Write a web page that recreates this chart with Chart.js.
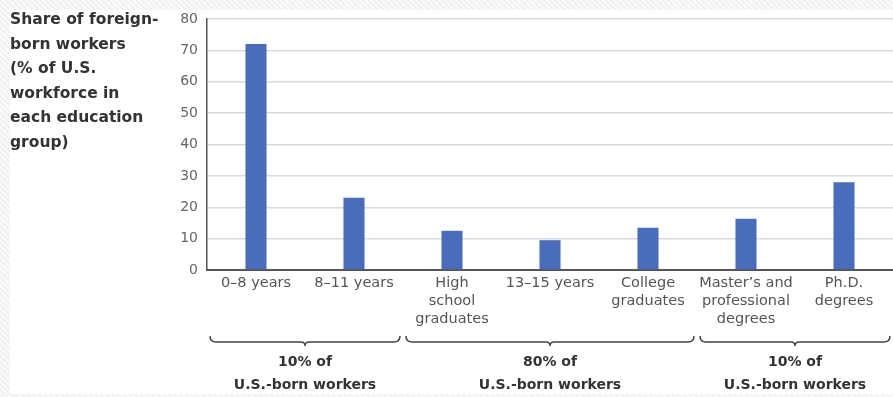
<!DOCTYPE html>
<html>
<head>
<meta charset="utf-8">
<script src="https://cdn.jsdelivr.net/npm/chart.js@4"></script>
<style>
  html, body { margin: 0; padding: 0; }
  body {
    width: 893px; height: 397px; overflow: hidden;
    background: repeating-linear-gradient(45deg, #f1f1f1 0 2px, #fafafa 2px 4px);
  }
  #panel { position: absolute; left: 10px; top: 10px; width: 883px; height: 384px; background: #fff; }
  #wrap { position: absolute; left: 0; top: 0; width: 893px; height: 397px; }
</style>
</head>
<body>
<div id="panel"></div>
<div id="wrap"><canvas id="chart"></canvas></div>
<script>
const categories = [
  ['0–8 years'],
  ['8–11 years'],
  ['High', 'school', 'graduates'],
  ['13–15 years'],
  ['College', 'graduates'],
  ["Master’s and", 'professional', 'degrees'],
  ['Ph.D.', 'degrees']
];
const shares = [72, 23, 12.5, 9.5, 13.5, 16.3, 28];
const yTicks = [0, 10, 20, 30, 40, 50, 60, 70, 80];

const titleLines = ['Share of foreign-', 'born workers', '(% of U.S.', 'workforce in', 'each education', 'group)'];

// groups of categories under each brace
const groupStart = [0, 2, 5];
const groupEnd = [1, 4, 6];
const groupLabels = [['10% of', 'U.S.-born workers'], ['80% of', 'U.S.-born workers'], ['10% of', 'U.S.-born workers']];

const FONT = '"DejaVu Sans", sans-serif';

const annotations = {
  id: 'annotations',
  afterDraw(chart) {
    const ctx = chart.ctx;
    const x = chart.scales.x;
    const half = (x.getPixelForValue(1) - x.getPixelForValue(0)) / 2;

    // left title
    ctx.save();
    ctx.fillStyle = '#333';
    ctx.font = 'bold 15.5px ' + FONT;
    ctx.textBaseline = 'middle';
    ctx.textAlign = 'left';
    titleLines.forEach((t, i) => ctx.fillText(t, 10, 20 + i * 24.5));

    // braces
    const by = 342;
    ctx.strokeStyle = '#444';
    ctx.lineWidth = 1.5;
    groupStart.forEach((s, i) => {
      const x0 = x.getPixelForValue(s) - half + 3;
      const x1 = x.getPixelForValue(groupEnd[i]) + half - 3;
      const xm = (x0 + x1) / 2;
      ctx.beginPath();
      ctx.moveTo(x0, by - 6);
      ctx.quadraticCurveTo(x0, by, x0 + 6, by);
      ctx.lineTo(xm - 4, by);
      ctx.quadraticCurveTo(xm, by, xm, by + 4);
      ctx.quadraticCurveTo(xm, by, xm + 4, by);
      ctx.lineTo(x1 - 6, by);
      ctx.quadraticCurveTo(x1, by, x1, by - 6);
      ctx.stroke();

      ctx.fillStyle = '#333';
      ctx.font = 'bold 14px ' + FONT;
      ctx.textAlign = 'center';
      ctx.fillText(groupLabels[i][0], xm, 362);
      ctx.fillText(groupLabels[i][1], xm, 385);
    });
    ctx.restore();
  }
};

new Chart(document.getElementById('chart'), {
  type: 'bar',
  data: {
    labels: categories,
    datasets: [{
      data: shares,
      backgroundColor: '#4a6cbd',
      categoryPercentage: 1,
      barPercentage: 0.215
    }]
  },
  options: {
    responsive: true,
    maintainAspectRatio: false,
    animation: false,
    layout: { padding: { top: 19, right: 0, left: 0, bottom: 0 } },
    plugins: { legend: { display: false }, tooltip: { enabled: false } },
    scales: {
      x: {
        grid: { display: false, drawTicks: false },
        border: { color: '#555', width: 2 },
        ticks: {
          color: '#555',
          font: { family: FONT, size: 14.5, lineHeight: 1.25 },
          padding: 4,
          maxRotation: 0,
          autoSkip: false
        },
        afterFit(scale) { scale.height = 127; }
      },
      y: {
        min: 0,
        max: 80,
        afterBuildTicks(scale) { scale.ticks = yTicks.map(v => ({ value: v })); },
        grid: { color: '#dadada', lineWidth: 1.5, drawTicks: false },
        border: { color: '#555', width: 1.5 },
        ticks: {
          color: '#666',
          font: { family: FONT, size: 14 },
          padding: 9
        },
        afterFit(scale) { scale.width = 207; }
      }
    }
  },
  plugins: [annotations]
});
</script>
</body>
</html>
